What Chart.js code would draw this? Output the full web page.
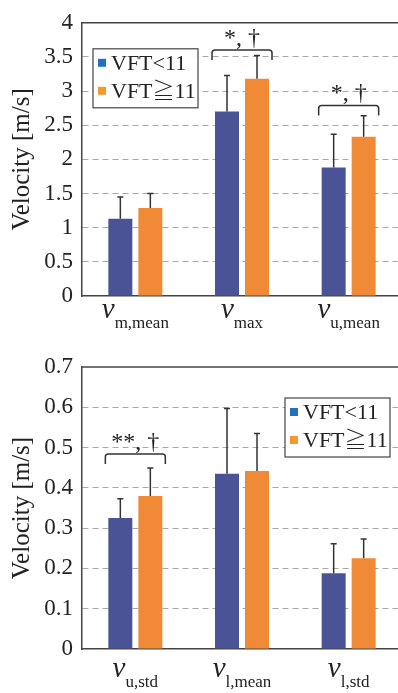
<!DOCTYPE html>
<html>
<head>
<meta charset="utf-8">
<script src="https://cdn.jsdelivr.net/npm/chart.js@4/dist/chart.umd.min.js"></script>
<style>
  html, body { margin: 0; padding: 0; background: #fff; overflow: hidden; width: 398px; height: 693px; }
  .panel { position: absolute; left: 0; }
  canvas { display: block; }
</style>
</head>
<body>
<div class="panel" style="top:0"><canvas id="topChart" width="410" height="340"></canvas></div>
<div class="panel" style="top:340px"><canvas id="bottomChart" width="410" height="353"></canvas></div>
<script>
// Group names
const seriesNames = ['VFT<11', 'VFT≧11'];

// Upper panel: mean / max / upper-mean velocity
const topSubscripts = ['m,mean', 'max', 'u,mean'];
const topLow = [1.13, 2.70, 1.88];
const topLowSd = [0.32, 0.53, 0.49];
const topHigh = [1.29, 3.18, 2.33];
const topHighSd = [0.21, 0.34, 0.31];
const topTicks = [0, 0.5, 1, 1.5, 2, 2.5, 3, 3.5, 4];
const topMarks = ['', '*, †', '*, †'];
const topMarkLevels = [null, 3.60, 2.79];

// Lower panel: standard deviations and lower mean velocity
const bottomSubscripts = ['u,std', 'l,mean', 'l,std'];
const bottomLow = [0.325, 0.435, 0.188];
const bottomLowSd = [0.048, 0.162, 0.073];
const bottomHigh = [0.380, 0.442, 0.225];
const bottomHighSd = [0.069, 0.093, 0.048];
const bottomTicks = [0, 0.1, 0.2, 0.3, 0.4, 0.5, 0.6, 0.7];
const bottomMarks = ['**, †', '', ''];
const bottomMarkLevels = [0.484, null, null];

const SERIF = '"Liberation Serif", "Noto Serif CJK JP", "Noto Sans CJK JP", serif';
const INK = '#222';
const BAR_COLORS = ['#4a5396', '#f08a36'];
const LEGEND_COLORS = ['#2470bd', '#f5992e'];

// Error bars, significance brackets, subscripted category labels, boxed legend
const decorations = {
  id: 'decorations',
  afterDatasetsDraw(chart, args, opts) {
    const { ctx, chartArea: area } = chart;
    const x = chart.scales.x, y = chart.scales.y;
    ctx.save();

    // frame line along the top of the plot
    ctx.strokeStyle = '#444';
    ctx.lineWidth = 1.5;
    ctx.beginPath();
    ctx.moveTo(area.left, area.top);
    ctx.lineTo(area.right, area.top);
    ctx.stroke();

    // one-sided error bars
    ctx.strokeStyle = '#333';
    ctx.lineWidth = 1.5;
    chart.data.datasets.forEach((ds, i) => {
      const meta = chart.getDatasetMeta(i);
      meta.data.forEach((bar, j) => {
        const yEnd = y.getPixelForValue(ds.data[j] + opts.sd[i][j]);
        ctx.beginPath();
        ctx.moveTo(bar.x, bar.y);
        ctx.lineTo(bar.x, yEnd);
        ctx.moveTo(bar.x - 3, yEnd);
        ctx.lineTo(bar.x + 3, yEnd);
        ctx.stroke();
      });
    });

    // significance brackets
    ctx.fillStyle = INK;
    ctx.textAlign = 'center';
    ctx.textBaseline = 'alphabetic';
    ctx.font = '24px ' + SERIF;
    opts.marks.forEach((mark, j) => {
      if (!mark) return;
      const cx = x.getPixelForValue(j);
      const yb = y.getPixelForValue(opts.levels[j]);
      const h = 30, r = 3, leg = 10;
      ctx.beginPath();
      ctx.moveTo(cx - h, yb + leg);
      ctx.lineTo(cx - h, yb + r);
      ctx.quadraticCurveTo(cx - h, yb, cx - h + r, yb);
      ctx.lineTo(cx + h - r, yb);
      ctx.quadraticCurveTo(cx + h, yb, cx + h, yb + r);
      ctx.lineTo(cx + h, yb + leg);
      ctx.stroke();
      ctx.fillText(mark, cx, yb - 5);
    });

    // category labels: italic v with a subscript
    ctx.textAlign = 'left';
    const base = area.bottom + opts.labelGap;
    opts.subscripts.forEach((sub, j) => {
      const cx = x.getPixelForValue(j);
      ctx.font = 'italic 29px ' + SERIF;
      const wv = ctx.measureText('v').width;
      ctx.font = '17px ' + SERIF;
      const ws = ctx.measureText(sub).width;
      const start = cx - (wv + ws) / 2;
      ctx.font = 'italic 29px ' + SERIF;
      ctx.fillText('v', start, base);
      ctx.font = '17px ' + SERIF;
      ctx.fillText(sub, start + wv, base + 10);
    });

    // boxed legend
    const bx = area.left + opts.legend.dx, by = area.top + opts.legend.dy;
    ctx.strokeStyle = '#444';
    ctx.lineWidth = 1.2;
    ctx.fillStyle = '#fff';
    ctx.fillRect(bx, by, 105, 59);
    ctx.strokeRect(bx, by, 105, 59);
    ctx.font = '22px ' + SERIF;
    ctx.textBaseline = 'middle';
    chart.data.datasets.forEach((ds, i) => {
      const ry = by + 14 + i * 28;
      ctx.fillStyle = LEGEND_COLORS[i];
      ctx.fillRect(bx + 5, ry - 4, 8, 8);
      ctx.fillStyle = INK;
      ctx.fillText(ds.label, bx + 18, ry + 1);
    });
    ctx.restore();
  }
};

function makeChart(id, subs, low, high, lowSd, highSd, ticks, marks, levels, legend, topPad, labelGap) {
  const max = ticks[ticks.length - 1];
  return new Chart(document.getElementById(id), {
    type: 'bar',
    data: {
      labels: subs.map(s => 'v ' + s),
      datasets: [
        { label: seriesNames[0], data: low, backgroundColor: BAR_COLORS[0] },
        { label: seriesNames[1], data: high, backgroundColor: BAR_COLORS[1] }
      ]
    },
    options: {
      responsive: false,
      animation: false,
      devicePixelRatio: 1,
      categoryPercentage: 0.5625,
      barPercentage: 0.8,
      layout: { padding: { top: topPad, right: 8, left: 0, bottom: 0 } },
      plugins: {
        legend: { display: false },
        tooltip: { enabled: false },
        decorations: { subscripts: subs, sd: [lowSd, highSd], marks: marks, levels: levels, legend: legend, labelGap: labelGap }
      },
      scales: {
        x: {
          ticks: { display: false },
          grid: { display: false },
          border: { color: '#444', width: 1.5 },
          afterFit: s => { s.height = 44; }
        },
        y: {
          min: 0,
          max: max,
          afterBuildTicks: s => { s.ticks = ticks.map(v => ({ value: v })); },
          ticks: {
            color: INK,
            padding: 9,
            font: { family: SERIF, size: 23 },
            callback: v => String(v)
          },
          grid: {
            drawTicks: false,
            lineWidth: 1,
            color: c => (c.tick && (c.tick.value === 0 || c.tick.value === max)) ? 'rgba(0,0,0,0)' : '#a8a8a8'
          },
          border: { color: '#444', width: 1.5, dash: [6, 4] },
          title: {
            display: true,
            text: 'Velocity [m/s]',
            color: INK,
            font: { family: SERIF, size: 25 },
            padding: { top: 7, bottom: 0 }
          },
          afterFit: s => { s.width = 82; }
        }
      }
    },
    plugins: [decorations]
  });
}

makeChart('topChart', topSubscripts, topLow, topHigh, topLowSd, topHighSd, topTicks,
  topMarks, topMarkLevels, { dx: 11, dy: 26 }, 15, 22);
makeChart('bottomChart', bottomSubscripts, bottomLow, bottomHigh, bottomLowSd, bottomHighSd, bottomTicks,
  bottomMarks, bottomMarkLevels, { dx: 203, dy: 31 }, 27, 28);
</script>
</body>
</html>
